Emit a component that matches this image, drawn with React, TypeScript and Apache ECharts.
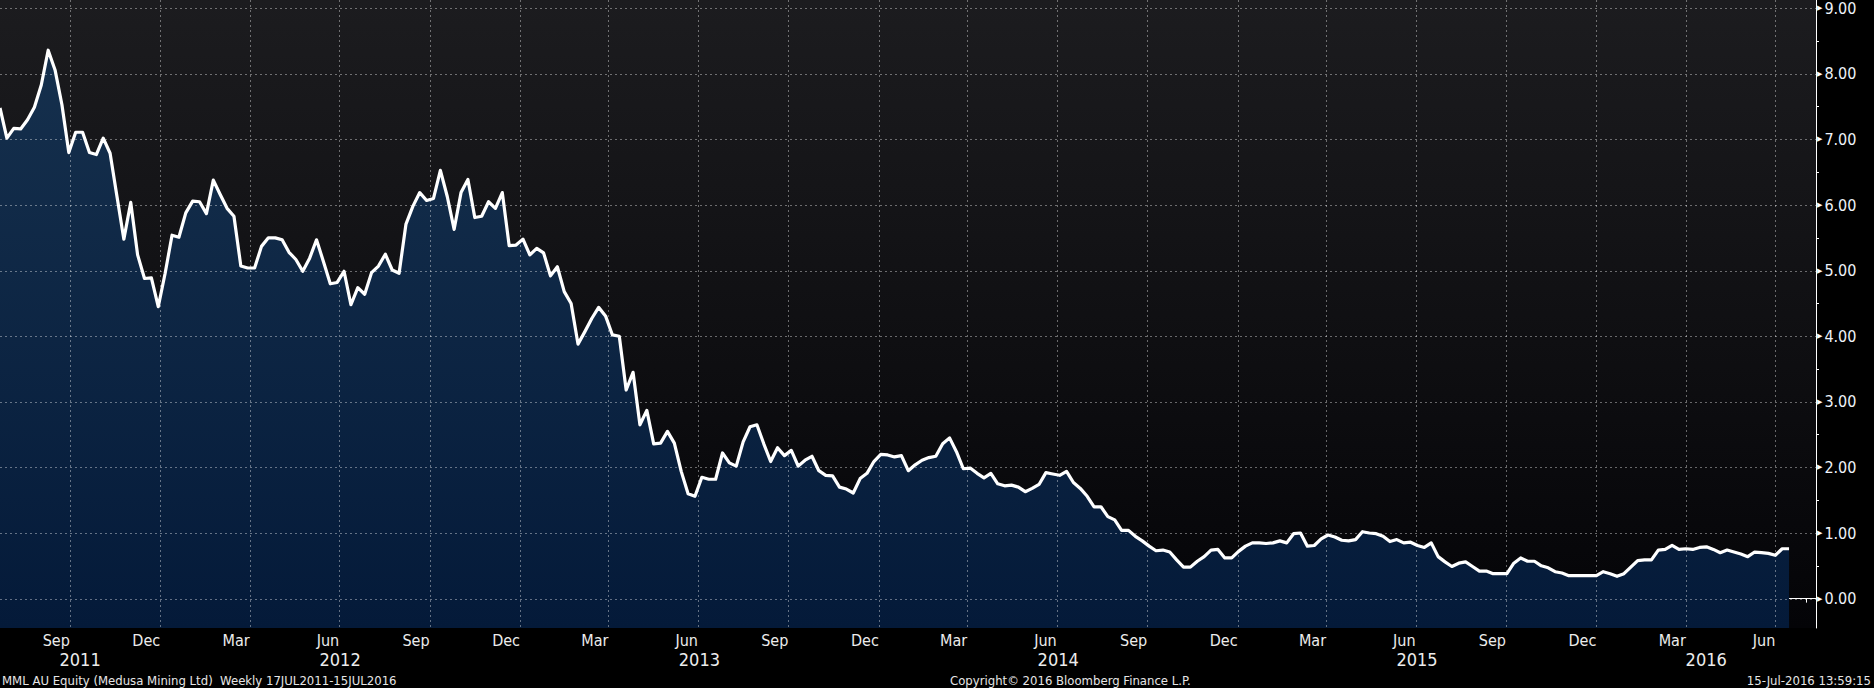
import React, { useEffect, useRef } from "react";
import * as echarts from "echarts";

// Weekly closes (AUD), first week ending 22 Jul 2011, one value per week
const START_YEAR = 2011;
const START_MONTH = 6; // July (0-based)
const START_DAY = 22;

const values2011 = [
  7.48, 7.02, 7.17, 7.16, 7.30, 7.49, 7.83, 8.36, 8.06, 7.53,
  6.80, 7.11, 7.11, 6.80, 6.77, 7.02, 6.79, 6.13, 5.48, 6.04,
  5.24, 4.88, 4.89,
];
const values2012 = [
  4.45, 4.96, 5.54, 5.51, 5.88, 6.06, 6.05,
  5.87, 6.38, 6.16, 5.95, 5.83, 5.07, 5.04, 5.04, 5.37, 5.50,
  5.50, 5.47, 5.28, 5.17, 4.99, 5.19, 5.47, 5.14, 4.80, 4.82,
  4.99, 4.48, 4.74,
  4.64, 4.97, 5.07, 5.25, 5.01, 4.96, 5.71, 5.98, 6.19, 6.07,
  6.10, 6.53, 6.13, 5.63, 6.19, 6.39, 5.81, 5.83, 6.05, 5.95,
  6.19, 5.38, 5.39,
];
const values2013 = [
  5.48, 5.24, 5.34, 5.27, 4.92, 5.06, 4.68,
  4.50, 3.88, 4.07, 4.27, 4.44, 4.31, 4.02, 4.00, 3.18, 3.45,
  2.65, 2.87, 2.36, 2.37, 2.55, 2.37, 1.94, 1.60, 1.56, 1.85,
  1.82,
  1.82, 2.22, 2.07, 2.02, 2.39, 2.62, 2.65, 2.36, 2.09, 2.30,
  2.18, 2.26, 2.02, 2.11, 2.17, 1.95, 1.88, 1.87, 1.70, 1.67,
  1.61, 1.83, 1.91, 2.09,
];
const values2014 = [
  2.20, 2.19, 2.16, 2.18, 1.95, 2.04,
  2.11, 2.15, 2.17, 2.36, 2.45, 2.24, 1.98, 1.99, 1.91, 1.84,
  1.91, 1.75, 1.72, 1.73, 1.70, 1.63, 1.68, 1.74, 1.92, 1.90,
  1.88, 1.94, 1.77, 1.68, 1.56,
  1.40, 1.40, 1.25, 1.20, 1.04, 1.04, 0.95, 0.88, 0.80, 0.73,
  0.74, 0.71, 0.59, 0.48, 0.48, 0.57, 0.64, 0.74,
];
const values2015 = [
  0.75, 0.62, 0.62, 0.72, 0.80, 0.85, 0.85, 0.84, 0.85, 0.88,
  0.85, 0.99, 1.00, 0.80, 0.81, 0.91, 0.97, 0.94, 0.89, 0.88,
  0.90, 1.02, 1.00, 0.99, 0.95, 0.87, 0.90, 0.85,
  0.86, 0.81, 0.78, 0.85, 0.64, 0.56, 0.49, 0.54, 0.56, 0.49,
  0.42, 0.42, 0.38, 0.38, 0.38, 0.54, 0.62, 0.57, 0.57, 0.50,
  0.47, 0.41, 0.39, 0.35,
];
const values2016 = [
  0.35, 0.35, 0.35, 0.35, 0.41, 0.38,
  0.34, 0.38, 0.48, 0.58, 0.59, 0.59, 0.74, 0.75, 0.81, 0.75,
  0.76, 0.75, 0.78, 0.79, 0.75, 0.70, 0.74, 0.71, 0.68, 0.64,
  0.71, 0.70, 0.69, 0.66, 0.76, 0.76,
];

const MONTH_NAMES = ["Jan", "Feb", "Mar", "Apr", "May", "Jun", "Jul", "Aug", "Sep", "Oct", "Nov", "Dec"];
const Y_MAJOR_TICKS = [0, 1, 2, 3, 4, 5, 6, 7, 8, 9];
const Y_MINOR_TICKS = [0.5, 1.5, 2.5, 3.5, 4.5, 5.5, 6.5, 7.5, 8.5];
const YEARS = [2011, 2012, 2013, 2014, 2015, 2016];

const TITLE_LEFT = "MML AU Equity (Medusa Mining Ltd)  Weekly 17JUL2011-15JUL2016";
const TITLE_CENTER = "Copyright\u00A9 2016 Bloomberg Finance L.P.";
const TITLE_RIGHT = "15-Jul-2016 13:59:15";

const FONT = "'DejaVu Sans Condensed', 'DejaVu Sans', sans-serif";
const DAY = 86400000;
const Y_MIN = -0.448;
const Y_MAX = 9.126;

export default function App() {
  const ref = useRef<HTMLDivElement>(null);

  useEffect(() => {
    if (!ref.current) return;
    const chart = echarts.init(ref.current, null, { renderer: "svg" });

    const allValues = [
      ...values2011, ...values2012, ...values2013,
      ...values2014, ...values2015, ...values2016,
    ];
    const data = allValues.map((v, i) => [
      new Date(START_YEAR, START_MONTH, START_DAY + 7 * i).getTime(),
      v,
    ]);

    const xMin = new Date(START_YEAR, START_MONTH, START_DAY).getTime();
    const xMax = new Date(2016, 7, 11, 10).getTime();

    const monthTicks: number[] = [];
    const quarterTicks: number[] = [];
    for (let y = 2011; y <= 2016; y++) {
      for (let m = 0; m < 12; m++) {
        const t = new Date(y, m, 1).getTime();
        if (t > xMin && t < xMax) {
          monthTicks.push(t);
          if (m % 3 === 0) quarterTicks.push(t);
        }
      }
    }
    const yearTicks = YEARS.slice(1).map((y) => new Date(y, 0, 1).getTime());
    const yearLabelPos = YEARS.map((y) => {
      const a = Math.max(xMin, new Date(y, 0, 1).getTime());
      const b = Math.min(xMax, new Date(y + 1, 0, 1).getTime());
      return (a + b) / 2;
    });

    const gridStyle = { stroke: "rgba(255,255,255,0.38)", fill: null, lineWidth: 1, lineDash: [2, 3] };

    const footer = [
      { type: "text", x: 2, y: 680, style: { text: TITLE_LEFT, fill: "#e6e6e6", fontSize: 13, fontFamily: FONT, verticalAlign: "middle" } },
      { type: "text", x: 950, y: 680, style: { text: TITLE_CENTER, fill: "#e6e6e6", fontSize: 13, fontFamily: FONT, verticalAlign: "middle" } },
      { type: "text", x: 1871, y: 680, style: { text: TITLE_RIGHT, fill: "#e6e6e6", fontSize: 13, fontFamily: FONT, align: "right", verticalAlign: "middle" } },
    ];

    chart.setOption({
      animation: false,
      backgroundColor: "#000000",
      textStyle: { fontFamily: FONT },
      grid: {
        left: 0, right: 58, top: 0, bottom: 60,
        show: true, borderWidth: 0,
        backgroundColor: new echarts.graphic.LinearGradient(0, 0, 0, 1, [
          { offset: 0, color: "#1c1c1f" },
          { offset: 1, color: "#040407" },
        ]),
      },
      xAxis: [
        {
          type: "value", min: xMin, max: xMax, position: "bottom",
          axisLine: { show: true, lineStyle: { color: "#ffffff", width: 1 } },
          axisTick: { show: true, customValues: monthTicks, length: 4, lineStyle: { color: "#ffffff", width: 1 } },
          splitLine: { show: false },
          axisLabel: {
            customValues: quarterTicks,
            formatter: (v: number) => MONTH_NAMES[new Date(v - DAY).getMonth()],
            align: "right", margin: 4, color: "#ececec", fontSize: 16, fontFamily: FONT,
          },
        },
        {
          type: "value", min: xMin, max: xMax, position: "bottom", offset: 21,
          axisLine: { show: false },
          axisTick: { show: true, customValues: yearTicks, length: 21, lineStyle: { color: "#8c8c8c", width: 1 } },
          axisLabel: {
            customValues: yearLabelPos,
            formatter: (v: number) => String(new Date(v).getFullYear()),
            margin: 1, color: "#ececec", fontSize: 18, fontFamily: FONT,
          },
          splitLine: { show: false },
        },
      ],
      yAxis: [
        {
          type: "value", min: Y_MIN, max: Y_MAX, position: "right",
          axisLine: { show: true, lineStyle: { color: "#ffffff", width: 1 } },
          axisTick: { show: false, customValues: Y_MAJOR_TICKS },
          splitLine: { show: false },
          axisLabel: {
            customValues: Y_MAJOR_TICKS, margin: 1,
            formatter: (v: number) => `{t|\u25B6}{v|${v.toFixed(2)}}`,
            rich: {
              t: { fontSize: 7, color: "#ffffff", padding: [0, 2, 0, 0], fontFamily: "DejaVu Sans" },
              v: { fontSize: 16, color: "#eef3fa", fontFamily: FONT },
            },
          },
        },
        {
          type: "value", min: Y_MIN, max: Y_MAX, position: "right",
          axisLine: { show: false },
          axisTick: { show: true, customValues: Y_MINOR_TICKS, length: 3, lineStyle: { color: "#ffffff", width: 1 } },
          axisLabel: { show: false },
          splitLine: { show: false },
        },
      ],
      series: [
        {
          type: "line", xAxisIndex: 0, yAxisIndex: 0, data,
          showSymbol: false, symbol: "none",
          lineStyle: { color: "#ffffff", width: 3.2, join: "round" },
          areaStyle: {
            origin: "start", opacity: 1,
            color: new echarts.graphic.LinearGradient(0, 0, 0, 628, [
              { offset: 0, color: "#17324f" },
              { offset: 1, color: "#041a39" },
            ], true),
          },
          z: 2,
        },
      ],
      graphic: footer,
    });

    // dashed grid drawn on top of the area, positioned through the axes' own scales
    try {
      const px = (t: number) => chart.convertToPixel({ xAxisIndex: 0 }, t) as number;
      const py = (v: number) => chart.convertToPixel({ yAxisIndex: 0 }, v) as number;
      const left = px(xMin);
      const right = px(xMax);
      const top = py(Y_MAX);
      const bottom = py(Y_MIN);
      const lines: any[] = [];
      quarterTicks.forEach((t) => {
        const x = Math.round(px(t)) + 0.5;
        lines.push({ type: "line", z: 100, silent: true, shape: { x1: x, y1: top, x2: x, y2: bottom }, style: gridStyle });
      });
      Y_MAJOR_TICKS.forEach((v) => {
        const y = Math.round(py(v)) + 0.5;
        lines.push({ type: "line", z: 100, silent: true, shape: { x1: left, y1: y, x2: right, y2: y }, style: gridStyle });
      });
      chart.setOption({ graphic: [...footer, ...lines] }, { replaceMerge: ["graphic"] });
    } catch (e) {
      // keep the chart without the grid overlay
    }

    return () => chart.dispose();
  }, []);

  return <div ref={ref} style={{ position: "absolute", left: 0, top: 0, width: 1874, height: 688, background: "#000" }} />;
}
